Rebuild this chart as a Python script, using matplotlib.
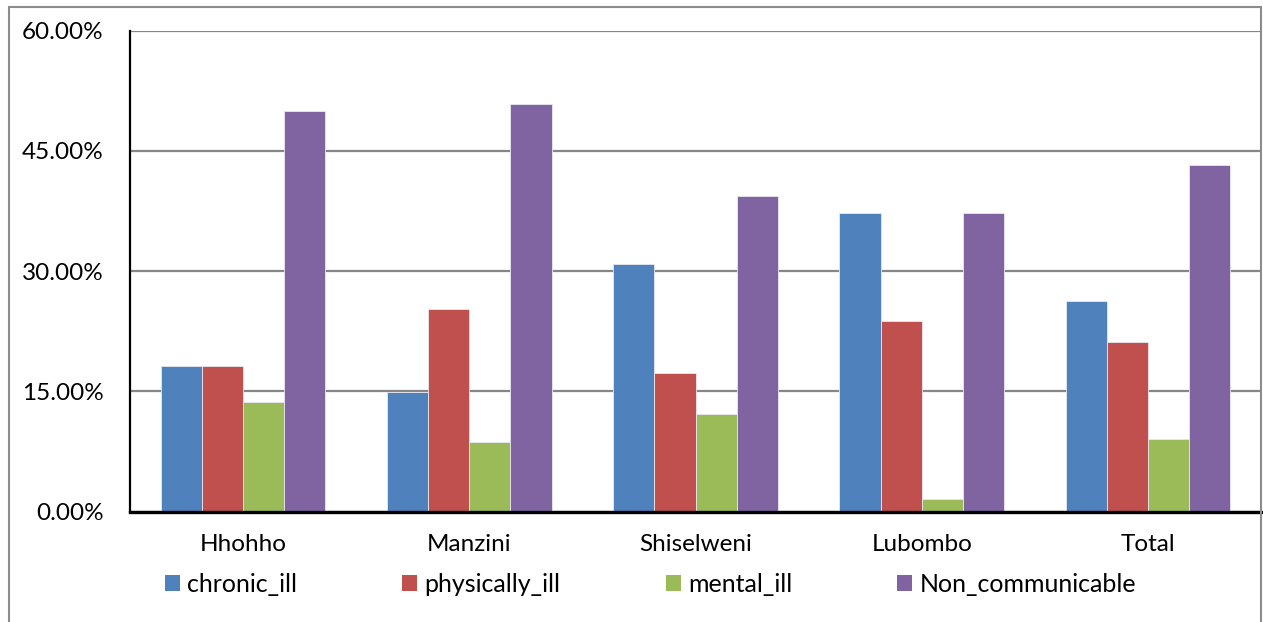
import numpy as np
import matplotlib
matplotlib.use("Agg")
import matplotlib.pyplot as plt
from matplotlib.patches import Patch, Rectangle

plt.rcParams['font.family'] = ['Lato', 'DejaVu Sans']

# data (fractions)
regions = ["Hhohho", "Manzini", "Shiselweni", "Lubombo", "Total"]
series = ["chronic_ill", "physically_ill", "mental_ill", "Non_communicable"]
chronic_ill = [0.181, 0.149, 0.309, 0.372, 0.262]
physically_ill = [0.181, 0.253, 0.173, 0.238, 0.211]
mental_ill = [0.136, 0.087, 0.122, 0.015, 0.091]
non_communicable = [0.499, 0.508, 0.393, 0.372, 0.432]
yticks = [0.0, 0.15, 0.30, 0.45, 0.60]

colors = ["#4F81BD", "#C0504D", "#9BBB59", "#8064A2"]

W, H = 1263, 622
fig = plt.figure(figsize=(W / 100, H / 100), dpi=100)
ax = fig.add_axes([130 / W, 1 - 511.5 / H, (1261 - 130) / W, (511.5 - 30.5) / H])

x = np.arange(len(regions))
w = 1 / 5.5  # excel gap width 150%
values = [chronic_ill, physically_ill, mental_ill, non_communicable]
for i, (vals, col) in enumerate(zip(values, colors)):
    ax.bar(x + (i - 1.5) * w, vals, width=w, color=col,
           edgecolor="#e8e8f0", linewidth=0.6, zorder=2)

ax.set_xlim(-0.5, len(regions) - 0.5)
ax.set_ylim(0, 0.60)
ax.set_yticks(yticks)
ax.set_yticklabels(["{:.2f}%".format(v * 100) for v in yticks], fontsize=17.5)
ax.set_xticks(x)
ax.set_xticklabels(regions, fontsize=17.5)
ax.tick_params(axis="y", length=0, pad=19)
ax.tick_params(axis="x", length=0, pad=16)

ax.yaxis.grid(True, color="#868686", linewidth=1.6, zorder=0)
ax.set_axisbelow(True)
for s in ["top", "right"]:
    ax.spines[s].set_visible(False)
ax.spines["left"].set_linewidth(1.6)
ax.spines["bottom"].set_linewidth(2.4)
ax.spines["left"].set_color("black")
ax.spines["bottom"].set_color("black")

# legend below the categories
handles = [Patch(facecolor=c, edgecolor="none") for c in colors]
fig.legend(handles, series, ncol=4, loc="center",
           bbox_to_anchor=(650.5 / W, 1 - 584 / H), frameon=False,
           fontsize=18, handlelength=0.6, handleheight=0.6,
           handletextpad=0.3, columnspacing=4.2,
           borderpad=0, borderaxespad=0)

# outer chart border (bottom edge falls outside the picture)
fig.add_artist(Rectangle((9 / W, -0.05), (1261 - 9) / W, 1.05 - 7 / H,
                         transform=fig.transFigure, fill=False,
                         edgecolor="#8c8c8c", linewidth=1.5, clip_on=False))

fig.savefig("out.png", dpi=100)
